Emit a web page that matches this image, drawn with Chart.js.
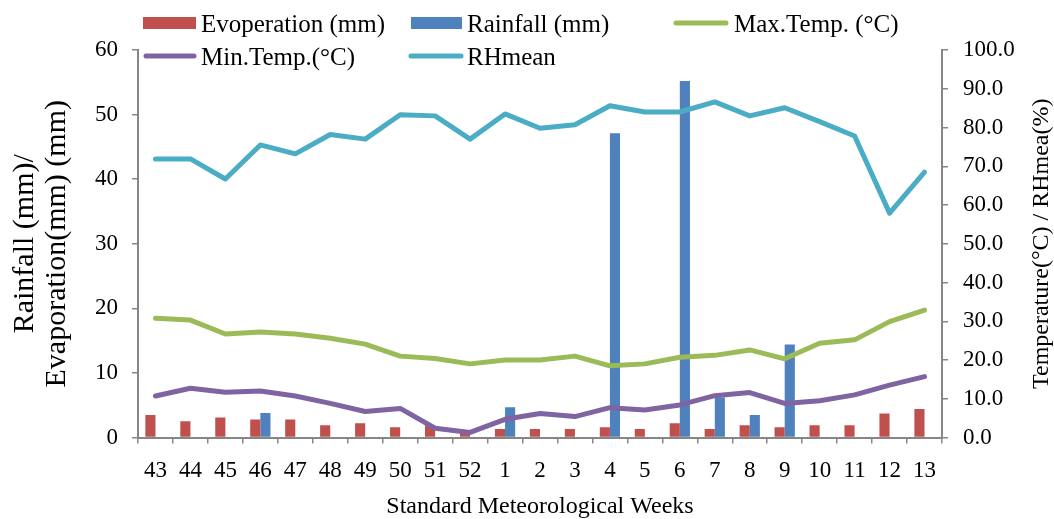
<!DOCTYPE html>
<html>
<head>
<meta charset="utf-8">
<script src="https://cdn.jsdelivr.net/npm/chart.js@4.4.1/dist/chart.umd.min.js"></script>
<style>
  html, body { margin: 0; padding: 0; background: #fff; }
  #wrap { position: relative; width: 1054px; height: 519px; }
</style>
</head>
<body>
<div id="wrap"><canvas id="c"></canvas></div>
<script>
/* weather chart: evaporation / rainfall bars + temperature / RH lines */
var weeks = ['43','44','45','46','47','48','49','50','51','52','1','2','3','4','5','6','7','8','9','10','11','12','13'];

var evaporation = [3.5,2.5,3.1,2.8,2.8,1.9,2.2,1.6,1.9,0.8,1.3,1.3,1.3,1.6,1.3,2.2,1.3,1.9,1.6,1.9,1.9,3.7,4.4];
var rainfall    = [0,0,0,3.8,0,0,0,0,0,0,4.7,0,0,47.1,0,55.2,6.2,3.5,14.4,0,0,0,0];
var maxTemp     = [30.8,30.3,26.7,27.2,26.7,25.6,24.1,21.0,20.4,19.0,20.0,20.0,21.0,18.5,19.0,20.7,21.2,22.6,20.3,24.3,25.2,29.9,32.9];
var minTemp     = [10.7,12.7,11.7,12.0,10.7,8.8,6.7,7.5,2.4,1.3,4.7,6.2,5.4,7.7,7.1,8.4,10.8,11.6,8.8,9.5,11.0,13.5,15.7];
var rhMean      = [71.9,71.9,66.7,75.5,73.2,78.2,77.0,83.3,83.0,77.0,83.5,79.8,80.7,85.6,84.0,84.0,86.6,83.0,85.1,81.5,77.8,57.9,68.5];

var FONT = "'Liberation Serif', 'Times New Roman', serif";
var AXIS = '#868686';
var C = { red: '#C0504D', blue: '#4F81BD', green: '#9BBB59', purple: '#8064A2', cyan: '#4BACC6' };

function lineDs(label, data, color) {
  return {
    type: 'line', label: label, data: data, yAxisID: 'y2', order: 1,
    borderColor: color, backgroundColor: color, borderWidth: 5,
    pointRadius: 0, tension: 0, fill: false,
    borderCapStyle: 'round', borderJoinStyle: 'round'
  };
}

/* legend laid out like the original (two rows, fixed columns) */
var legendSlots = [
  { x0: 143, x1: 196, y: 23, tx: 201 },
  { x0: 411, x1: 462, y: 23, tx: 467 },
  { x0: 673, x1: 729, y: 23, tx: 734 },
  { x0: 143, x1: 197, y: 56, tx: 201 },
  { x0: 408, x1: 464, y: 56, tx: 467 }
];

var gridLegend = {
  id: 'gridLegend',
  afterDraw: function (chart) {
    var ctx = chart.ctx;
    var sets = chart.data.datasets;
    ctx.save();
    ctx.font = '25px ' + FONT;
    ctx.textBaseline = 'middle';
    ctx.textAlign = 'left';
    sets.forEach(function (ds, i) {
      var s = legendSlots[i];
      if (ds.type === 'line') {
        ctx.strokeStyle = ds.borderColor; ctx.lineWidth = 5; ctx.lineCap = 'round';
        ctx.beginPath(); ctx.moveTo(s.x0 + 3, s.y); ctx.lineTo(s.x1 - 3, s.y); ctx.stroke();
      } else {
        ctx.fillStyle = ds.backgroundColor;
        ctx.fillRect(s.x0, s.y - 6, s.x1 - s.x0, 12);
      }
      ctx.fillStyle = '#000';
      ctx.fillText(ds.label, s.tx, s.y + 2);
    });
    ctx.restore();
  }
};

/* right axis title reads bottom-to-top like the left one */
var rightTitle = {
  id: 'rightTitle',
  afterDraw: function (chart) {
    var ctx = chart.ctx, a = chart.chartArea;
    ctx.save();
    ctx.translate(1042, (a.top + a.bottom) / 2);
    ctx.rotate(-Math.PI / 2);
    ctx.font = '24px ' + FONT;
    ctx.fillStyle = '#000';
    ctx.textAlign = 'center'; ctx.textBaseline = 'middle';
    ctx.fillText('Temperature(\u00B0C) / RHmea(%)', 0, 0);
    ctx.restore();
  }
};

new Chart(document.getElementById('c'), {
  type: 'bar',
  data: {
    labels: weeks,
    datasets: [
      { label: 'Evoperation (mm)', data: evaporation, backgroundColor: C.red, yAxisID: 'y', order: 2,
        categoryPercentage: 0.58, barPercentage: 1.0 },
      { label: 'Rainfall (mm)', data: rainfall, backgroundColor: C.blue, yAxisID: 'y', order: 2,
        categoryPercentage: 0.58, barPercentage: 1.0 },
      lineDs('Max.Temp. (\u00B0C)', maxTemp, C.green),
      lineDs('Min.Temp.(\u00B0C)', minTemp, C.purple),
      lineDs('RHmean', rhMean, C.cyan)
    ]
  },
  options: {
    responsive: true, maintainAspectRatio: false, animation: false,
    layout: { padding: { top: 50, left: 0, right: 0, bottom: 0 } },
    plugins: { legend: { display: false }, tooltip: { enabled: false } },
    scales: {
      x: {
        offset: true,
        grid: { offset: true, drawOnChartArea: false, tickLength: 6, color: AXIS, lineWidth: 1.5 },
        border: { color: AXIS, width: 2 },
        ticks: { color: '#000', font: { family: FONT, size: 23 }, padding: 14, maxRotation: 0, autoSkip: false },
        title: { display: true, text: 'Standard Meteorological Weeks', color: '#000',
                 font: { family: FONT, size: 24, lineHeight: 1.0 }, padding: { top: 0, bottom: 0 } },
        afterFit: function (s) { s.height = 81.5; }
      },
      y: {
        position: 'left', min: 0, max: 60,
        grid: { drawOnChartArea: false, tickLength: 6, color: AXIS, lineWidth: 1.5 },
        border: { color: AXIS, width: 2 },
        ticks: { stepSize: 10, color: '#000', font: { family: FONT, size: 23 }, padding: 14 },
        title: { display: true, text: ['Rainfall (mm)/', 'Evaporation(mm) (mm)'], color: '#000',
                 font: { family: FONT, size: 30, lineHeight: 1.08 }, padding: { top: 9, bottom: 0 } },
        afterFit: function (s) { s.width = 138; }
      },
      y2: {
        position: 'right', min: 0, max: 100,
        grid: { drawOnChartArea: false, tickLength: 6, color: AXIS, lineWidth: 1.5 },
        border: { color: AXIS, width: 2 },
        ticks: { stepSize: 10, color: '#000', font: { family: FONT, size: 23 }, padding: 15,
                 callback: function (v) { return v.toFixed(1); } },
        afterFit: function (s) { s.width = 112; }
      }
    }
  },
  plugins: [gridLegend, rightTitle]
});
</script>
</body>
</html>
